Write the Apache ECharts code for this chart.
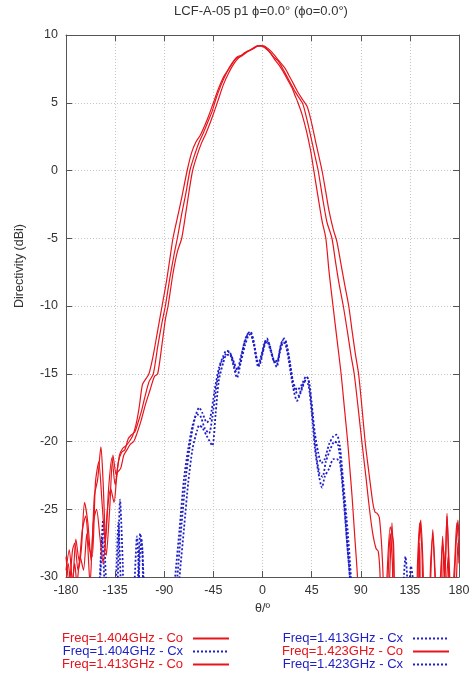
<!DOCTYPE html>
<html>
<head>
<meta charset="utf-8">
<script src="https://cdn.jsdelivr.net/npm/echarts@6/dist/echarts.min.js"></script>
<style>
  html, body { margin: 0; padding: 0; background: #fff; }
  #chart { width: 476px; height: 674px; }
</style>
</head>
<body>
<div id="chart"></div>
<script>
// angle ticks and dB ticks
var thetaTicks = [-180, -135, -90, -45, 0, 45, 90, 135, 180];
var dbTicks = [-30, -25, -20, -15, -10, -5, 0, 5, 10];

// [theta (deg), directivity (dBi)]; -34 = below the axis floor
var co1404 = [[-180,-28.5],[-177,-30.5],[-174,-28],[-172,-27.5],[-169,-29.5],[-166,-28],[-163,-24.5],[-160,-26],[-157,-28.8],[-154,-24],[-151,-22.8],[-148,-20.4],[-146,-23],[-143,-28.4],[-140,-25],[-137,-21],[-134,-22.5],[-131,-21],[-128,-20.5],[-125,-20.3],[-122,-20],[-119,-19.6],[-116,-18.8],[-113,-17.5],[-110,-15.8],[-107,-15.4],[-104,-15],[-100,-13.6],[-96,-11.8],[-92,-10],[-88,-8.2],[-85,-6.6],[-82,-5],[-78,-3.5],[-74,-2],[-69,0],[-65,1.3],[-61,2.1],[-57,2.6],[-53,3.3],[-49,4.1],[-45,5],[-40,6.1],[-35,7],[-30,7.6],[-25,8.2],[-21,8.4],[-16,8.7],[-11,8.9],[-7,9.1],[-3,9.2],[1,9.2],[5,9],[9,8.7],[13,8.3],[17,7.9],[21,7.5],[25,6.9],[29,6.3],[33,5.7],[37,5.2],[41,4.7],[45,3.5],[49,2],[54.5,0],[58,-1.6],[61,-3],[65,-4.4],[68,-5.2],[71,-6.5],[75,-8.3],[79,-10],[82,-11.8],[85,-13.5],[88,-15],[91,-17.4],[94,-20],[97,-22],[101,-24.5],[103,-25.2],[105,-25.3],[107,-25.6],[109,-27.5],[110.5,-30],[112,-34],[115,-34],[116.5,-30],[118.6,-26],[120.5,-30],[122,-34],[141,-34],[143,-28],[145,-25.8],[147,-29],[149,-34],[153,-32],[156,-26.5],[159,-31],[162,-33],[165,-27],[167,-30],[169,-25.3],[171,-30],[174,-33],[177,-28],[179,-25.8],[180,-27]];

var co1413 = [[-180,-29.5],[-177,-28],[-174,-30.5],[-171,-27.2],[-168,-28.8],[-165,-26.5],[-162,-25.5],[-159,-27.8],[-156,-28.5],[-153,-23],[-150,-21.5],[-147,-24.5],[-144,-27.5],[-141,-23.5],[-138,-21.2],[-135,-23.2],[-132,-21.5],[-129,-20.8],[-126,-20.6],[-123,-19.8],[-120,-19.5],[-117,-19.3],[-114,-18.6],[-111,-17.8],[-108,-16.8],[-104,-15.6],[-100,-15],[-96,-13],[-92,-11.2],[-89,-10],[-85,-8],[-81,-6.2],[-78,-5],[-74,-3.2],[-70,-1.6],[-66.5,0],[-62,1.2],[-58,2.1],[-54,2.8],[-50,3.6],[-46,4.4],[-43,5.2],[-38,6.3],[-33,7.2],[-28,7.9],[-23,8.4],[-19,8.5],[-14,8.8],[-9,9],[-5,9.2],[-2,9.2],[2,9.1],[6,8.8],[10,8.4],[14,8.1],[18,7.6],[22,7],[26,6.4],[30,5.8],[34,5.3],[37,4.9],[40,4],[44,2.6],[48,1.1],[51,0],[55,-2],[59,-3.8],[63.6,-5],[67,-6.8],[70,-8.3],[74,-10],[78,-12],[81,-13.6],[84,-15],[88,-17.8],[91,-20],[95,-22.8],[98,-25],[101,-26.8],[104,-27.9],[106,-28.1],[107.5,-29.5],[109,-33],[112,-34],[114,-30],[117,-26.3],[120,-27.5],[122,-33],[140,-33],[142,-29],[144,-26],[146,-28],[148,-33],[152,-33],[154,-29],[156,-27],[158,-30],[160,-33],[163,-30],[165,-27.5],[167,-30],[169,-25.5],[171,-29],[173,-32],[176,-29],[178,-26],[180,-28]];

var co1423 = [[-180,-30.5],[-178,-29],[-175,-31],[-172,-29],[-170,-30.5],[-167,-28.5],[-164,-29.5],[-161,-26.8],[-158,-30.5],[-155,-26],[-152,-25],[-149,-27],[-146,-29],[-142,-25],[-139,-23.5],[-136,-24.5],[-133,-22.3],[-130,-22],[-127,-21],[-124,-20.6],[-121,-20.2],[-118,-20],[-115,-19.4],[-111,-18.4],[-107,-17.2],[-103,-16.2],[-99,-15.2],[-96,-15],[-92,-12.8],[-89,-11],[-86.5,-10],[-82,-7.6],[-78,-6],[-74,-5],[-70,-3],[-67,-1.4],[-64,0],[-60,1.1],[-56,2],[-52,2.7],[-48,3.5],[-44,4.4],[-41,5.1],[-36,6.3],[-31,7.2],[-26,7.9],[-22,8.3],[-18,8.5],[-13,8.8],[-8,9],[-4,9.2],[-1,9.2],[3,9],[7,8.7],[11,8.2],[15,7.8],[19,7.3],[23,6.7],[27,6.1],[30,5.5],[32.5,5],[36,4.2],[40,3],[44,1.5],[47,0],[51,-2],[54.5,-3.7],[58,-5],[61,-7.5],[64.6,-10],[68,-12.3],[72,-15],[75,-17.5],[78,-20],[80,-22],[82,-24],[84.5,-27],[87,-30],[89,-34],[113,-34],[115,-30],[117,-26.8],[119,-29],[120.5,-34],[142,-34],[144,-27.5],[146,-34],[163,-33],[166,-28],[168,-31],[170,-28.5],[172,-33],[177,-31],[179,-27.5],[180,-29]];

var cx1404 = [[-180,-34],[-151,-34],[-148.5,-30],[-146,-25.8],[-143.5,-30],[-141,-34],[-134,-34],[-132.5,-30],[-130.5,-24.3],[-128,-29],[-126,-34],[-116,-34],[-114,-30],[-112,-26.8],[-110,-28],[-108,-34],[-82,-34],[-78,-30],[-74,-26],[-70,-22.5],[-66,-20],[-62,-18.3],[-58,-17.5],[-55,-17.9],[-51,-18.6],[-48,-18.3],[-44,-16.3],[-40,-14.6],[-36,-13.7],[-33,-13.3],[-30,-13.4],[-26,-14.2],[-23,-14.7],[-20,-13.8],[-16,-12.6],[-13,-12],[-11,-11.9],[-8,-12.6],[-6,-13.6],[-4,-14.3],[-1,-13.6],[2,-12.7],[4,-12.4],[7,-13],[10,-13.9],[13,-14.3],[16,-13.2],[19,-12.5],[21,-12.6],[24,-13.6],[28,-15.6],[32,-16.2],[36,-15.8],[40,-15.2],[42,-15.4],[45,-17.2],[48,-19.4],[51,-20.8],[54,-21.6],[57,-21.3],[61,-20.2],[65,-19.6],[68,-19.5],[71,-20.4],[74,-23],[78,-26.6],[81,-30],[83,-34],[127,-34],[129.5,-30],[131,-28.5],[132.5,-30],[134,-34],[180,-34]];

var cx1413 = [[-180,-34],[-136,-34],[-134,-30],[-132,-26],[-130,-30],[-128,-34],[-120,-34],[-117,-30],[-115,-27],[-113,-30],[-111,-34],[-80,-34],[-76,-30],[-72,-26.5],[-68,-23],[-64,-20.5],[-60,-19.2],[-58,-18.8],[-55,-19],[-51,-19.6],[-46,-20.3],[-43,-18],[-40,-15.5],[-36,-14.2],[-33,-13.6],[-30,-13.6],[-26,-14.6],[-23.4,-15.3],[-20,-14.2],[-16,-12.9],[-13,-12.2],[-11,-12.1],[-8,-12.8],[-6,-13.8],[-4,-14.5],[-1,-13.8],[2,-12.9],[4,-12.6],[7,-13.2],[10,-14],[13,-14.5],[16,-13.4],[19,-12.7],[21,-12.8],[24,-14],[28,-16],[31.6,-17],[35,-16.4],[39,-15.6],[42,-15.8],[45,-17.8],[48,-20.5],[51,-22.2],[54.5,-23.4],[57,-22.6],[61,-22],[65,-21.3],[68,-21.3],[71,-21.6],[74,-24],[77,-27],[80,-30],[82,-34],[133,-34],[135,-30],[136,-29.2],[137.5,-30],[139,-34],[180,-34]];

var cx1423 = [[-180,-34],[-152,-34],[-149,-30],[-147,-27],[-145,-30],[-143,-34],[-116,-34],[-113.5,-30],[-111,-27.2],[-109,-30],[-107,-34],[-84,-34],[-80,-30],[-76,-26.5],[-72,-22.8],[-68,-20.5],[-64,-18.8],[-60,-18],[-57,-18.1],[-53,-19],[-49,-19.4],[-46,-18.2],[-42,-15.8],[-38,-14.2],[-34,-13.6],[-31,-13.4],[-28,-13.8],[-24,-14.8],[-21,-14.4],[-17,-12.8],[-14,-12.1],[-11,-12],[-8,-12.8],[-5,-14],[-3,-14.4],[0,-13.5],[3,-12.6],[5,-12.6],[8,-13.4],[11,-14.1],[14,-14],[17,-12.8],[20,-12.4],[22,-12.8],[25,-14.2],[29,-16],[33,-16.6],[37,-15.8],[41,-15.3],[43,-15.8],[46,-18.2],[49,-20.8],[52,-22.3],[55,-22.6],[58,-21.5],[62,-20.6],[66,-20],[69,-20.2],[72,-21.8],[75,-24.6],[78,-28],[81,-31],[83,-34],[180,-34]];

var seriesNames = ['Freq=1.404GHz - Co', 'Freq=1.404GHz - Cx', 'Freq=1.413GHz - Co',
                   'Freq=1.413GHz - Cx', 'Freq=1.423GHz - Co', 'Freq=1.423GHz - Cx'];
var seriesData = [co1404, cx1404, co1413, cx1413, co1423, cx1423];

var RED = '#e8141c';
var BLUE = '#1e1ec8';
var FONT = 'Liberation Sans, Arial, sans-serif';

var chart = echarts.init(document.getElementById('chart'));

var series = seriesNames.map(function (name, i) {
  var isCo = name.indexOf('Co') > 0;
  return {
    name: name,
    type: 'line',
    data: seriesData[i],
    showSymbol: false,
    symbol: 'none',
    smooth: 0.25,
    clip: true,
    z: isCo ? 3 : 2,
    lineStyle: isCo
      ? { color: RED, width: 1.2, type: 'solid' }
      : { color: BLUE, width: 1.8, type: [2, 2] },
    itemStyle: { color: isCo ? RED : BLUE }
  };
});

function legendItem(name) {
  return { name: name, textStyle: { color: name.indexOf('Co') > 0 ? RED : BLUE } };
}

function makeLegend(left, names) {
  return {
    orient: 'vertical',
    align: 'right',
    left: left,
    top: 632,
    height: 40,
    padding: 0,
    itemWidth: 36,
    itemHeight: 8,
    itemGap: 0,
    itemStyle: { opacity: 0 },
    textStyle: { fontFamily: FONT, fontSize: 13, lineHeight: 13, padding: [0, 5, 0, 0] },
    data: names.map(legendItem)
  };
}

var axisLineStyle = { color: '#555', width: 1 };

var option = {
  animation: false,
  title: {
    text: 'LCF-A-05 p1 \u03d5=0.0\u00b0 (\u03d5o=0.0\u00b0)',
    left: 261,
    textAlign: 'center',
    top: 5,
    padding: 0,
    textStyle: { fontFamily: FONT, fontSize: 13, fontWeight: 'normal', color: '#333' }
  },
  grid: { left: 66, right: 17, top: 35, bottom: 97 },
  legend: [
    makeLegend(62, [seriesNames[0], seriesNames[1], seriesNames[2]]),
    makeLegend(282, [seriesNames[3], seriesNames[4], seriesNames[5]])
  ],
  xAxis: [{
    type: 'value',
    min: thetaTicks[0],
    max: thetaTicks[thetaTicks.length - 1],
    interval: 45,
    name: '\u03b8/\u00ba',
    nameLocation: 'middle',
    nameGap: 24,
    nameTextStyle: { fontFamily: FONT, fontSize: 12.5, color: '#333' },
    axisLine: { show: true, onZero: false, lineStyle: axisLineStyle },
    axisTick: { show: true, inside: true, length: 6, lineStyle: axisLineStyle },
    axisLabel: { fontFamily: FONT, fontSize: 12.5, color: '#333', margin: 7 },
    splitLine: { show: true, lineStyle: { color: '#c4c4c4', type: [1, 2] } }
  }, {
    type: 'value',
    position: 'top',
    min: thetaTicks[0],
    max: thetaTicks[thetaTicks.length - 1],
    interval: 45,
    axisLine: { show: true, onZero: false, lineStyle: axisLineStyle },
    axisTick: { show: true, inside: true, length: 6, lineStyle: axisLineStyle },
    axisLabel: { show: false },
    splitLine: { show: false }
  }],
  yAxis: [{
    type: 'value',
    min: dbTicks[0],
    max: dbTicks[dbTicks.length - 1],
    interval: 5,
    axisLine: { show: true, onZero: false, lineStyle: axisLineStyle },
    axisTick: { show: true, inside: true, length: 6, lineStyle: axisLineStyle },
    axisLabel: { fontFamily: FONT, fontSize: 12.5, color: '#333', margin: 8 },
    splitLine: { show: true, lineStyle: { color: '#c4c4c4', type: [1, 2] } }
  }, {
    type: 'value',
    position: 'right',
    min: dbTicks[0],
    max: dbTicks[dbTicks.length - 1],
    interval: 5,
    axisLine: { show: true, onZero: false, lineStyle: axisLineStyle },
    axisTick: { show: true, inside: true, length: 6, lineStyle: axisLineStyle },
    axisLabel: { show: false },
    splitLine: { show: false }
  }],
  graphic: [{
    type: 'text',
    x: 20,
    y: 266,
    rotation: Math.PI / 2,
    style: {
      text: 'Directivity (dBi)',
      fontFamily: FONT,
      fontSize: 12.5,
      fill: '#333',
      align: 'center',
      verticalAlign: 'middle'
    }
  }],
  series: series
};

chart.setOption(option);
</script>
</body>
</html>
